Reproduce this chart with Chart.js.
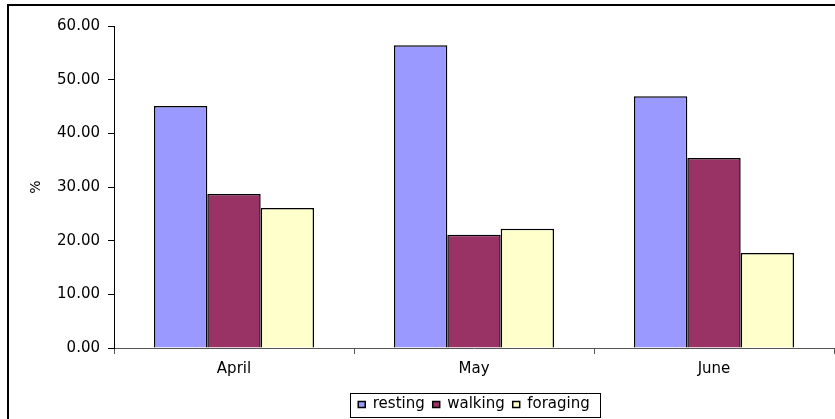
<!DOCTYPE html>
<html>
<head>
<meta charset="utf-8">
<script src="https://cdn.jsdelivr.net/npm/chart.js@4/dist/chart.umd.min.js"></script>
<style>
  html, body { margin: 0; padding: 0; background: #fff; overflow: hidden; }
  #wrap { width: 835px; height: 419px; }
</style>
</head>
<body>
<div id="wrap"><canvas id="c" width="835" height="419"></canvas></div>
<script>
const months = ['April', 'May', 'June'];
const resting = [45.1, 56.4, 46.9];
const walking = [28.7, 21.1, 35.4];
const foraging = [26.1, 22.2, 17.7];
const yTicks = [0, 10, 20, 30, 40, 50, 60];

Chart.defaults.font.family = '"DejaVu Sans", Arial, sans-serif';
Chart.defaults.font.size = 15;
Chart.defaults.color = '#000';

// outer frame + box round the legend
const frame = {
  id: 'frame',
  afterDraw(chart) {
    const ctx = chart.ctx;
    ctx.save();
    ctx.strokeStyle = '#000';
    ctx.lineWidth = 2;
    ctx.strokeRect(8, 5, 900, 500);
    const hb = chart.legend.legendHitBoxes;
    if (hb && hb.length) {
      const first = hb[0], last = hb[hb.length - 1];
      const l = Math.round(first.left) - 7.5;
      const r = Math.round(last.left + last.width) + 10.5;
      const cy = Math.round(first.top + first.height / 2);
      ctx.lineWidth = 1;
      ctx.strokeRect(l, cy - 11.5, r - l, 24);
    }
    ctx.restore();
  }
};

new Chart(document.getElementById('c'), {
  type: 'bar',
  data: {
    labels: months,
    datasets: [
      { label: 'resting', data: resting, backgroundColor: '#9999FF', borderColor: '#000', borderWidth: 1.5 },
      { label: 'walking', data: walking, backgroundColor: '#993366', borderColor: '#000', borderWidth: 1.5 },
      { label: 'foraging', data: foraging, backgroundColor: '#FFFFCC', borderColor: '#000', borderWidth: 1.5 }
    ]
  },
  plugins: [frame],
  options: {
    responsive: false,
    animation: false,
    categoryPercentage: 0.667,
    barPercentage: 1,
    layout: { padding: { left: 28, top: 26, right: 1, bottom: -3 } },
    plugins: {
      tooltip: { enabled: false },
      legend: {
        position: 'bottom',
        fullSize: false,
        labels: { boxWidth: 7, boxHeight: 6, padding: 8, color: '#000', font: { size: 15 } }
      }
    },
    scales: {
      x: {
        afterFit: s => { s.height += 5; },
        grid: { offset: true, drawOnChartArea: false, tickLength: 6, color: '#555' },
        border: { color: '#555', width: 1 },
        ticks: { padding: 6, color: '#000' }
      },
      y: {
        min: 0,
        max: 60,
        afterBuildTicks: s => { s.ticks = yTicks.map(v => ({ value: v })); },
        afterFit: s => { s.width = 86; },
        title: { display: true, text: '%', color: '#000', font: { size: 14 }, padding: 0 },
        grid: { drawOnChartArea: false, tickLength: 6, color: '#000' },
        border: { color: '#000', width: 1 },
        ticks: { padding: 8, color: '#000', callback: v => Number(v).toFixed(2) }
      }
    }
  }
});
</script>
</body>
</html>
